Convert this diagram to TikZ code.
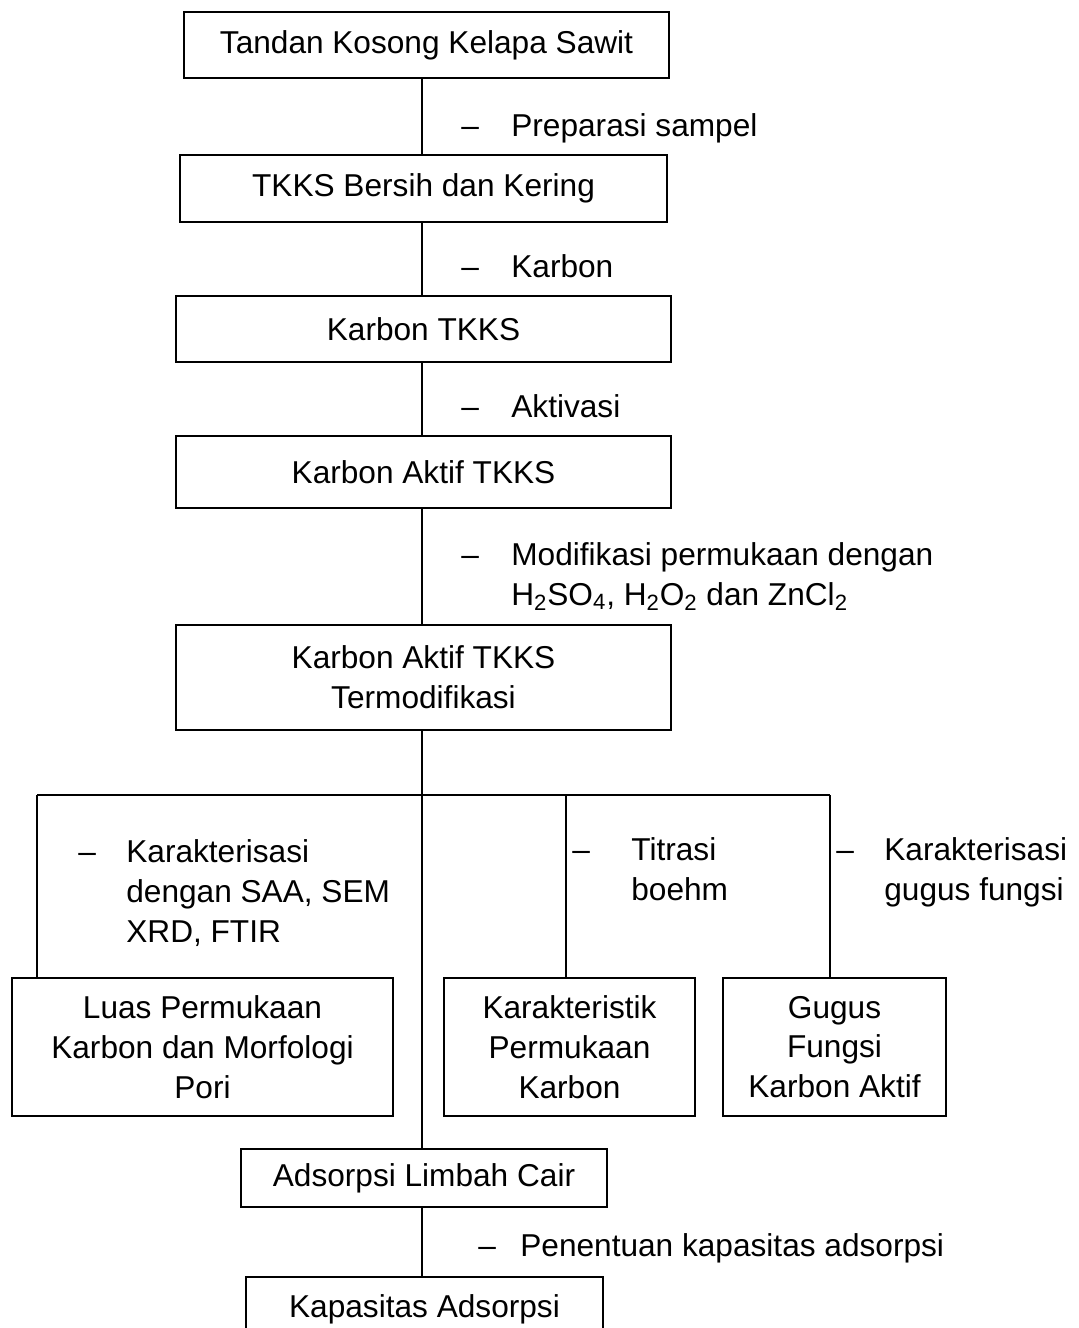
\documentclass[tikz,border=0pt]{standalone}
\usepackage{fontspec}
\setmainfont{Liberation Sans}
\begin{document}
\begin{tikzpicture}[x=0.02cm,y=-0.02cm,
  every node/.style={font=\fontsize{18}{22.7}\selectfont, inner sep=0pt},
  box/.style 2 args={draw, line width=1.1pt, align=center,
    minimum width=#1*0.02cm, minimum height=#2*0.02cm},
  conn/.style={line width=0.6pt},
  lbl/.style={anchor=north west, align=left},
  dsh/.style={anchor=base west}]
\clip (0,0) rectangle (1078,1328);
\fill[white] (0,0) rectangle (1078,1328);

% boxes
\node[box={485}{66}]  (b1) at (426.5,45)   {Tandan Kosong Kelapa Sawit};
\node[box={487}{67}]  (b2) at (423.5,188.5) {TKKS Bersih dan Kering};
\node[box={495}{66}]  (b3) at (423.5,329)  {Karbon TKKS};
\node[box={495}{72}]  (b4) at (423.5,472)  {Karbon Aktif TKKS};
\node[box={495}{105}] (b5) at (423.5,677.5) {Karbon Aktif TKKS\\Termodifikasi};
\node[box={381}{138}] (b6) at (202.5,1047) {Luas Permukaan\\Karbon dan Morfologi\\Pori};
\node[box={251}{138}] (b7) at (569.5,1047) {Karakteristik\\Permukaan\\Karbon};
\node[box={223}{138}] (b8) at (834.5,1047) {Gugus\\Fungsi\\Karbon Aktif};
\node[box={366}{58}]  (b9) at (424,1178)   {Adsorpsi Limbah Cair};
\node[box={357}{64}]  (b10) at (424.5,1309) {Kapasitas Adsorpsi};

% spine and branches
\coordinate (sp) at (422,0);
\coordinate (L) at (37,795);
\coordinate (M) at (566,795);
\coordinate (R) at (830,795);
\draw[conn] (b1.south -| sp) -- (b2.north -| sp);
\draw[conn] (b2.south -| sp) -- (b3.north -| sp);
\draw[conn] (b3.south -| sp) -- (b4.north -| sp);
\draw[conn] (b4.south -| sp) -- (b5.north -| sp);
\draw[conn] (b5.south -| sp) -- (b9.north -| sp);
\draw[conn] (b9.south -| sp) -- (b10.north -| sp);
\draw[conn] (L) -- (R);
\draw[conn] (L) -- (L |- b6.north);
\draw[conn] (M) -- (M |- b7.north);
\draw[conn] (R) -- (R |- b8.north);

% step labels
\node[dsh] (d1) at (461,136) {–};
\node[lbl] (l1) at (511,113) {Preparasi sampel};
\node[dsh] (d2) at (461,277) {–};
\node[lbl] (l2) at (511,254) {Karbon};
\node[dsh] (d3) at (461,417) {–};
\node[lbl] (l3) at (511,394) {Aktivasi};
\node[dsh] (d4) at (461,565) {–};
\node[lbl] (l4) at (511,542) {Modifikasi permukaan dengan\\H\textsubscript{2}SO\textsubscript{4}, H\textsubscript{2}O\textsubscript{2} dan ZnCl\textsubscript{2}};
\node[dsh] (d5) at (78,862) {–};
\node[lbl] (l5) at (126,839) {Karakterisasi\\dengan SAA, SEM\\XRD, FTIR};
\node[dsh] (d6) at (572,860) {–};
\node[lbl] (l6) at (631,837) {Titrasi\\boehm};
\node[dsh] (d7) at (836,860) {–};
\node[lbl] (l7) at (884,837) {Karakterisasi\\gugus fungsi};
\node[dsh] (d8) at (478,1256) {–};
\node[lbl] (l8) at (520,1233) {Penentuan kapasitas adsorpsi};
\end{tikzpicture}
\end{document}
